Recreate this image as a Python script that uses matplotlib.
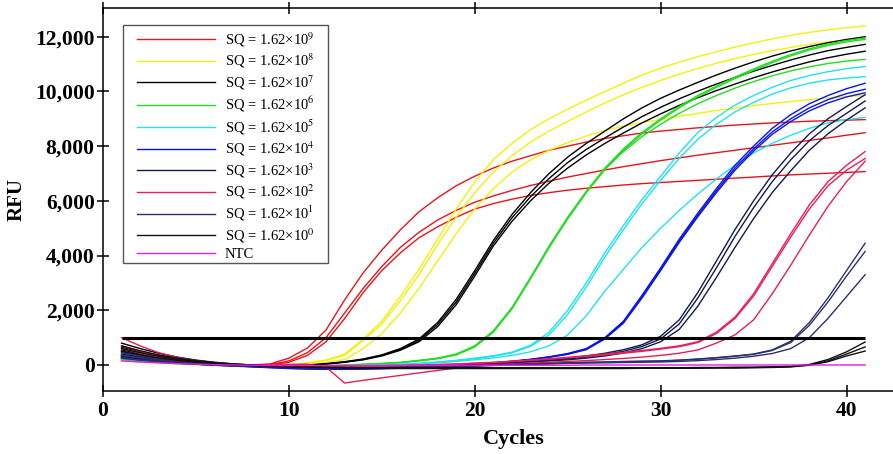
import matplotlib
matplotlib.use("Agg")
import matplotlib.pyplot as plt
from matplotlib.patches import Rectangle
from matplotlib.ticker import FuncFormatter

plt.rcParams['font.family'] = ['Liberation Serif', 'DejaVu Serif']
plt.rcParams['mathtext.fontset'] = 'stix'

cycles = list(range(1, 42))
threshold = 1000

# RFU per cycle (1..41), three replicates per standard
sq9 = [
    [450, 330, 230, 150, 90, 50, 20, 0, 40, 250, 620, 1280, 2380, 3370, 4200, 4940, 5600, 6110, 6550, 6900, 7200, 7450, 7650, 7850, 8000, 8150, 8280, 8380, 8480, 8550, 8610, 8670, 8720, 8770, 8810, 8850, 8880, 8910, 8930, 8950, 8970],
    [350, 260, 180, 110, 60, 30, 0, -20, 10, 150, 450, 1000, 1900, 2800, 3600, 4300, 4850, 5300, 5650, 5950, 6180, 6380, 6560, 6720, 6870, 7000, 7130, 7250, 7360, 7470, 7570, 7670, 7760, 7850, 7940, 8030, 8120, 8210, 8300, 8400, 8490],
    [300, 220, 150, 90, 50, 20, 0, -20, 0, 100, 350, 850, 1700, 2650, 3450, 4100, 4650, 5050, 5400, 5700, 5900, 6060, 6200, 6300, 6390, 6460, 6520, 6580, 6630, 6670, 6710, 6750, 6790, 6830, 6870, 6910, 6950, 6980, 7010, 7040, 7070],
]
sq8 = [
    [250, 190, 130, 80, 40, 10, -10, -30, -20, 20, 80, 180, 400, 950, 1600, 2500, 3500, 4600, 5700, 6700, 7500, 8100, 8600, 9000, 9350, 9680, 10000, 10300, 10600, 10850, 11070, 11270, 11450, 11620, 11780, 11920, 12050, 12160, 12250, 12330, 12400],
    [200, 150, 100, 60, 30, 0, -20, -40, -30, 10, 70, 170, 350, 900, 1500, 2350, 3300, 4400, 5400, 6300, 7050, 7650, 8150, 8550, 8900, 9250, 9580, 9880, 10150, 10400, 10630, 10840, 11030, 11200, 11350, 11490, 11610, 11720, 11810, 11880, 11940],
    [150, 110, 70, 40, 10, -10, -30, -50, -50, -20, 30, 100, 200, 600, 1150, 1900, 2800, 3800, 4800, 5700, 6450, 7050, 7500, 7850, 8130, 8370, 8570, 8730, 8860, 8980, 9090, 9200, 9300, 9390, 9480, 9560, 9630, 9700, 9760, 9810, 9860],
]
sq7 = [
    [800, 600, 430, 290, 180, 100, 40, 0, -20, -20, 0, 50, 120, 220, 370, 600, 950, 1550, 2400, 3450, 4550, 5500, 6300, 7000, 7600, 8100, 8550, 9000, 9400, 9750, 10050, 10330, 10600, 10850, 11080, 11290, 11480, 11640, 11780, 11900, 12000],
    [650, 490, 350, 230, 140, 70, 20, -10, -30, -30, -10, 40, 110, 200, 350, 570, 900, 1480, 2300, 3350, 4450, 5380, 6150, 6820, 7400, 7880, 8300, 8700, 9080, 9420, 9730, 10010, 10270, 10510, 10740, 10950, 11150, 11330, 11490, 11610, 11720],
    [550, 410, 290, 190, 110, 50, 10, -20, -40, -40, -20, 30, 100, 190, 330, 540, 850, 1400, 2200, 3250, 4350, 5250, 6000, 6650, 7200, 7680, 8100, 8480, 8850, 9180, 9490, 9770, 10030, 10270, 10500, 10710, 10900, 11080, 11230, 11360, 11470],
]
sq6 = [
    [300, 220, 150, 90, 50, 20, 0, -20, -40, -50, -40, -20, 0, 30, 60, 100, 170, 250, 400, 700, 1250, 2100, 3200, 4350, 5400, 6350, 7200, 7900, 8500, 9000, 9450, 9850, 10200, 10520, 10820, 11100, 11350, 11560, 11730, 11860, 11950],
    [250, 180, 120, 70, 30, 0, -20, -40, -60, -60, -50, -30, -10, 20, 50, 90, 160, 240, 380, 680, 1220, 2070, 3170, 4300, 5350, 6320, 7150, 7800, 8350, 8800, 9200, 9550, 9850, 10120, 10360, 10570, 10750, 10900, 11020, 11110, 11170],
    [200, 140, 90, 50, 20, -10, -30, -50, -60, -70, -60, -40, -20, 10, 40, 80, 150, 230, 370, 660, 1200, 2050, 3150, 4300, 5350, 6300, 7150, 7850, 8450, 8950, 9400, 9800, 10150, 10470, 10770, 11050, 11300, 11510, 11680, 11810, 11900],
]
sq5 = [
    [450, 330, 230, 150, 90, 40, 10, -20, -40, -60, -60, -50, -40, -20, 0, 30, 60, 110, 170, 250, 340, 470, 720, 1200, 2000, 3000, 4100, 5100, 6050, 6900, 7750, 8500, 9050, 9500, 9850, 10150, 10400, 10580, 10720, 10830, 10910],
    [350, 260, 180, 110, 60, 20, -10, -30, -50, -70, -70, -60, -50, -30, -10, 20, 50, 100, 160, 230, 320, 440, 680, 1100, 1850, 2850, 3950, 4950, 5900, 6750, 7550, 8250, 8800, 9250, 9600, 9900, 10130, 10300, 10420, 10490, 10540],
    [250, 180, 120, 70, 30, 0, -20, -40, -60, -80, -80, -70, -60, -40, -20, 10, 40, 80, 130, 190, 260, 350, 480, 700, 1100, 1800, 2700, 3500, 4300, 5000, 5650, 6250, 6800, 7300, 7750, 8100, 8400, 8650, 8850, 8970, 9050],
]
sq4 = [
    [350, 260, 180, 110, 60, 20, -10, -40, -70, -100, -120, -130, -130, -120, -110, -90, -70, -40, -10, 30, 80, 140, 210, 300, 420, 600, 1000, 1600, 2550, 3550, 4600, 5550, 6450, 7300, 8000, 8650, 9150, 9550, 9850, 10100, 10300],
    [300, 220, 150, 90, 40, 0, -30, -60, -90, -120, -140, -150, -150, -140, -130, -110, -80, -50, -20, 20, 70, 130, 200, 290, 400, 580, 980, 1570, 2500, 3500, 4530, 5480, 6370, 7200, 7900, 8520, 9000, 9400, 9700, 9920, 10080],
    [250, 180, 120, 70, 30, -10, -40, -70, -100, -130, -150, -160, -160, -150, -140, -120, -90, -60, -30, 10, 60, 120, 190, 280, 390, 560, 950, 1530, 2450, 3450, 4480, 5420, 6300, 7120, 7820, 8430, 8900, 9290, 9580, 9800, 9950],
]
sq3 = [
    [500, 370, 260, 170, 100, 50, 10, -20, -50, -70, -90, -100, -100, -90, -80, -60, -40, -20, 0, 30, 70, 110, 150, 200, 250, 330, 430, 560, 740, 1050, 1650, 2650, 3800, 4950, 6000, 6950, 7750, 8450, 9000, 9450, 9880],
    [400, 300, 210, 130, 70, 30, 0, -30, -60, -80, -100, -110, -110, -100, -90, -70, -50, -30, -10, 20, 50, 90, 130, 170, 220, 290, 380, 500, 680, 950, 1500, 2450, 3550, 4700, 5750, 6700, 7500, 8200, 8750, 9200, 9650],
    [300, 220, 150, 90, 40, 10, -20, -50, -70, -90, -110, -120, -120, -110, -100, -80, -60, -40, -20, 10, 40, 70, 110, 150, 190, 250, 330, 440, 600, 850, 1300, 2150, 3200, 4300, 5350, 6300, 7100, 7850, 8450, 8950, 9400],
]
sq2 = [
    [1000, 700, 450, 280, 160, 80, 30, 0, -20, -40, -50, -50, -40, -30, -20, -10, 0, 20, 40, 70, 100, 140, 180, 230, 280, 340, 400, 460, 530, 610, 700, 850, 1200, 1750, 2600, 3700, 4800, 5850, 6700, 7300, 7800],
    [600, 430, 290, 180, 100, 50, 10, -20, -40, -60, -70, -70, -60, -50, -40, -30, -10, 10, 30, 60, 90, 130, 170, 210, 260, 310, 370, 430, 500, 580, 670, 820, 1150, 1700, 2520, 3600, 4680, 5700, 6550, 7120, 7550],
    [700, 500, 330, 210, 120, 60, 20, 0, 10, 20, 30, -80, -660, -560, -470, -380, -290, -200, -110, -30, 10, 40, 70, 100, 130, 160, 200, 240, 290, 350, 430, 550, 800, 1100, 1650, 2600, 3650, 4750, 5800, 6700, 7450],
]
sq1 = [
    [450, 330, 230, 150, 90, 40, 10, -20, -50, -70, -90, -100, -110, -110, -100, -90, -80, -60, -40, -20, 0, 20, 40, 60, 80, 100, 110, 130, 140, 150, 180, 220, 270, 330, 400, 550, 870, 1550, 2450, 3450, 4450],
    [350, 260, 180, 110, 60, 20, -10, -40, -60, -80, -100, -110, -120, -120, -110, -100, -90, -70, -50, -30, -10, 10, 30, 50, 70, 90, 100, 120, 130, 140, 170, 210, 260, 320, 390, 530, 820, 1450, 2300, 3250, 4150],
    [250, 180, 120, 70, 30, 0, -30, -50, -70, -90, -110, -120, -130, -130, -120, -110, -100, -80, -60, -40, -20, 0, 20, 40, 60, 70, 80, 90, 100, 110, 130, 160, 200, 250, 320, 420, 600, 1000, 1700, 2500, 3300],
]
sq0 = [
    [700, 520, 370, 250, 160, 90, 40, 0, -30, -50, -70, -80, -90, -100, -100, -100, -100, -100, -100, -100, -100, -100, -100, -100, -100, -100, -100, -100, -100, -100, -100, -90, -90, -80, -80, -70, -50, 20, 200, 480, 840],
    [600, 450, 320, 210, 130, 70, 20, -10, -40, -60, -80, -90, -100, -110, -110, -110, -120, -120, -120, -120, -120, -120, -120, -120, -120, -120, -120, -120, -110, -110, -110, -110, -100, -100, -90, -80, -60, 0, 150, 400, 660],
    [500, 370, 260, 170, 100, 50, 10, -20, -50, -70, -90, -100, -110, -120, -120, -130, -130, -130, -130, -130, -130, -130, -130, -130, -130, -130, -130, -130, -120, -120, -120, -120, -110, -110, -100, -90, -70, -10, 120, 330, 510],
]
ntc = [[150, 110, 80, 50, 30, 10, 0, -10, -20, -20, -20, -20, -20, -20, -20, -20, -20, -10, -10, -10, -10, -10, -10, -10, -10, 0, 0, 0, 0, 0, 0, 0, 0, 0, 0, 0, 0, 0, 0, 0, 0]]

labels = ['SQ = 1.62×10$^{9}$', 'SQ = 1.62×10$^{8}$', 'SQ = 1.62×10$^{7}$', 'SQ = 1.62×10$^{6}$',
          'SQ = 1.62×10$^{5}$', 'SQ = 1.62×10$^{4}$', 'SQ = 1.62×10$^{3}$', 'SQ = 1.62×10$^{2}$',
          'SQ = 1.62×10$^{1}$', 'SQ = 1.62×10$^{0}$', 'NTC']
groups = [sq9, sq8, sq7, sq6, sq5, sq4, sq3, sq2, sq1, sq0, ntc]
colors = ['#e8141b', '#f5f00a', '#000000', '#22dd22', '#1fe3ee', '#0a14e6',
          '#141a50', '#e61e5a', '#2c3070', '#111111', '#e619e6']

fig = plt.figure(figsize=(8.93, 4.54), dpi=100)
ax = fig.add_axes([0.1153, 0.1388, 0.8847, 0.8436])

handles = []
for grp, col, lab in zip(groups, colors, labels):
    for i, ys in enumerate(grp):
        ln, = ax.plot(cycles, ys, color=col, lw=1.0)
        if i == 0:
            ln.set_label(lab)
            handles.append(ln)

ax.hlines(threshold, cycles[0], cycles[-1], color='black', lw=2.2, zorder=5)

ax.set_xlim(0, 42.5)
ax.set_ylim(-950, 13050)
ax.set_xticks([0, 10, 20, 30, 40])
ax.set_yticks(range(0, 12001, 2000))
ax.yaxis.set_major_formatter(FuncFormatter(lambda v, p: f'{int(v):,}'))

ax.spines['right'].set_visible(False)
for s in ['left', 'top', 'bottom']:
    ax.spines[s].set_linewidth(1.1)

ax.tick_params(axis='x', which='both', bottom=True, top=True, direction='inout',
               length=8, width=1.1, labelsize=15.5, pad=3)
ax.tick_params(axis='y', direction='inout', length=8, width=1.1, labelsize=15.5, pad=2)
for t in ax.get_xticklabels() + ax.get_yticklabels():
    t.set_fontweight('bold')

ax.set_xlabel('Cycles', fontsize=16, fontweight='bold', labelpad=4)
ax.xaxis.set_label_coords(0.52, -0.1)
ax.set_ylabel('RFU', fontsize=15, fontweight='bold', labelpad=6)

# legend entries without frame, box drawn separately
leg = ax.legend(handles=handles, loc='upper left', bbox_to_anchor=(0.038, 0.953),
                borderaxespad=0, fontsize=10.5, handlelength=5.3, handletextpad=0.7,
                labelspacing=0.2, borderpad=0.3, frameon=False)
leg.set_zorder(10)
ax.add_patch(Rectangle((0.0253, 0.3342), 0.2595, 0.6214, transform=ax.transAxes,
                       facecolor='white', edgecolor='#555555', lw=1.0, zorder=9))

fig.savefig('out.png', dpi=100)
